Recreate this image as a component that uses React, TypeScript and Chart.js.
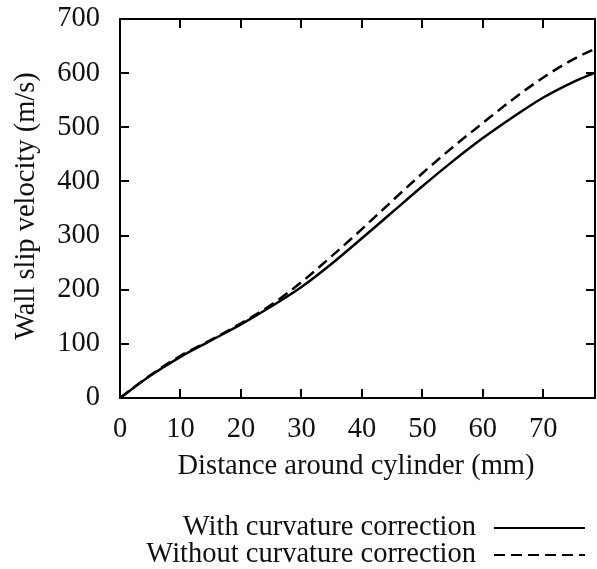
import { useEffect, useRef } from "react";
import { Chart, registerables } from "chart.js";

Chart.register(...registerables);

// Distance around cylinder (mm)
const distance = [0, 5, 10, 15, 20, 25, 30, 35, 40, 45, 50, 55, 60, 65, 70, 75, 78.54];
// Wall slip velocity (m/s)
const withCorrection = [0, 41, 76, 106, 136, 169, 205, 248, 295, 343, 391, 437, 480, 519, 555, 584, 601];
const withoutCorrection = [0, 42, 78, 107, 138, 172, 214, 262, 312, 364, 415, 463, 508, 552, 592, 626, 645];

const xTicks = [0, 10, 20, 30, 40, 50, 60, 70];
const yTicks = [0, 100, 200, 300, 400, 500, 600, 700];
const seriesLabels = ["With curvature correction", "Without curvature correction"];
const xTitle = "Distance around cylinder (mm)";
const yTitle = "Wall slip velocity (m/s)";

const FONT = "'Liberation Serif', 'Times New Roman', serif";
const FS = 28.5;

export default function App() {
  const ref = useRef<HTMLCanvasElement | null>(null);

  useEffect(() => {
    document.body.style.margin = "0";
    const canvas = ref.current;
    if (!canvas) return;

    const framePlugin = {
      id: "frame",
      afterDraw(chart: any) {
        const { ctx, chartArea: a, scales } = chart;
        ctx.save();
        ctx.strokeStyle = "#000";
        ctx.lineWidth = 2;
        ctx.strokeRect(a.left, a.top, a.right - a.left, a.bottom - a.top);
        const L = 9;
        ctx.beginPath();
        for (const v of xTicks) {
          const px = Math.round(scales.x.getPixelForValue(v));
          ctx.moveTo(px, a.bottom);
          ctx.lineTo(px, a.bottom - L);
          ctx.moveTo(px, a.top);
          ctx.lineTo(px, a.top + L);
        }
        for (const v of yTicks) {
          const py = Math.round(scales.y.getPixelForValue(v));
          ctx.moveTo(a.left, py);
          ctx.lineTo(a.left + L, py);
          ctx.moveTo(a.right, py);
          ctx.lineTo(a.right - L, py);
        }
        ctx.stroke();

        ctx.fillStyle = "#111";
        ctx.font = `${FS}px ${FONT}`;
        ctx.textAlign = "center";
        ctx.textBaseline = "middle";
        ctx.fillText(xTitle, 356, 467);
        ctx.save();
        ctx.translate(27, 206);
        ctx.rotate(-Math.PI / 2);
        ctx.fillText(yTitle, 0, 0);
        ctx.restore();

        // legend
        ctx.textAlign = "right";
        const rows = [528, 555];
        const dashes = [[], [11, 6]];
        seriesLabels.forEach((lab, i) => {
          ctx.fillStyle = "#111";
          ctx.fillText(lab, 476, rows[i]);
          ctx.beginPath();
          ctx.setLineDash(dashes[i]);
          ctx.lineWidth = 2.2;
          ctx.moveTo(494, rows[i]);
          ctx.lineTo(585, rows[i]);
          ctx.stroke();
        });
        ctx.setLineDash([]);
        ctx.restore();
      },
    };

    const chart = new Chart(canvas, {
      type: "line",
      data: {
        datasets: [
          {
            label: seriesLabels[0],
            data: distance.map((x, i) => ({ x, y: withCorrection[i] })),
            borderColor: "#000",
            borderWidth: 2.5,
            pointRadius: 0,
            cubicInterpolationMode: "monotone",
            fill: false,
          },
          {
            label: seriesLabels[1],
            data: distance.map((x, i) => ({ x, y: withoutCorrection[i] })),
            borderColor: "#000",
            borderWidth: 2.5,
            borderDash: [11, 6],
            pointRadius: 0,
            cubicInterpolationMode: "monotone",
            fill: false,
          },
        ],
      },
      options: {
        responsive: false,
        animation: false,
        layout: { padding: { top: 19, right: 2, left: 0, bottom: 0 } },
        plugins: { legend: { display: false }, tooltip: { enabled: false } },
        scales: {
          x: {
            type: "linear",
            min: 0,
            max: 78.54,
            grid: { display: false },
            border: { display: false },
            afterFit: (s: any) => {
              s.height = 171;
              s.paddingLeft = 0;
              s.paddingRight = 0;
            },
            ticks: {
              stepSize: 10,
              includeBounds: false,
              autoSkip: false,
              maxRotation: 0,
              padding: 6,
              color: "#111",
              font: { family: FONT, size: FS },
            },
          },
          y: {
            type: "linear",
            min: 0,
            max: 700,
            grid: { display: false },
            border: { display: false },
            afterFit: (s: any) => {
              s.width = 120;
              s.paddingTop = 0;
              s.paddingBottom = 0;
            },
            ticks: {
              stepSize: 100,
              padding: 12,
              color: "#111",
              font: { family: FONT, size: FS },
            },
          },
        },
      },
      plugins: [framePlugin],
    });

    return () => chart.destroy();
  }, []);

  return <canvas ref={ref} width={597} height={569} style={{ display: "block" }} />;
}
